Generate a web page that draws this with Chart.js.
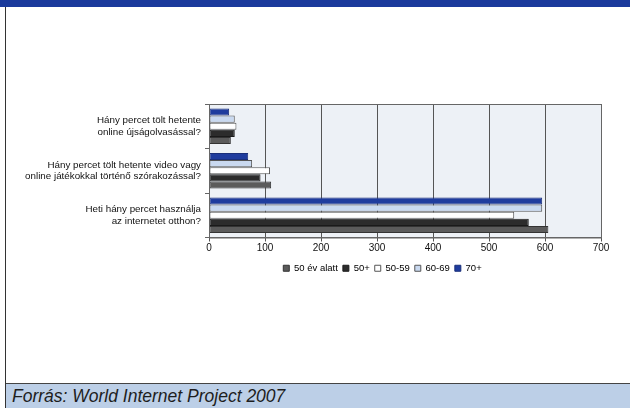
<!DOCTYPE html>
<html>
<head>
<meta charset="utf-8">
<script src="https://cdn.jsdelivr.net/npm/chart.js@4/dist/chart.umd.min.js"></script>
<style>
  html, body { margin: 0; padding: 0; background: #fff; }
  body { width: 630px; height: 408px; position: relative; overflow: hidden; font-family: "Liberation Sans", Arial, sans-serif; }
  #topband { position: absolute; left: 0; top: 0; width: 630px; height: 7px; background: #1b3a9c; }
  #leftline { position: absolute; left: 5px; top: 7px; width: 1px; height: 401px; background: #333; }
  #bottomband { position: absolute; left: 6px; top: 383px; width: 624px; height: 25px; background: #bccfe7; border-top: 1px solid #444; box-sizing: border-box; }
  #source { position: absolute; left: 12px; top: 384px; font-style: italic; font-size: 17.5px; color: #1e1e1e; line-height: 25px; }
  #wrap { position: absolute; left: 6px; top: 8px; width: 624px; height: 372px; }
</style>
</head>
<body>
<div id="topband"></div>
<div id="leftline"></div>
<div id="bottomband"></div>
<div id="source">Forrás: World Internet Project 2007</div>
<div id="wrap"><canvas id="c" width="624" height="372"></canvas></div>
<script>
const categories = [
  ["Hány percet tölt hetente", "online újságolvasással?"],
  ["Hány percet tölt hetente video vagy", "online játékokkal történő szórakozással?"],
  ["Heti hány percet használja", "az internetet otthon?"]
];
const seriesNames = ["70+", "60-69", "50-59", "50+", "50 év alatt"];
const values70plus = [36, 70, 595];
const values6069 = [46, 77, 595];
const values5059 = [49, 109, 545];
const values50plus = [46, 92, 571];
const valuesUnder50 = [39, 111, 606];
const xTicks = [0, 100, 200, 300, 400, 500, 600, 700];

const colors = ["#1f3c9e", "#c9d9f0", "#ffffff", "#2c2c2c", "#5b5b5b"];
const borders = ["#1a2f7a", "#555", "#555", "#1a1a1a", "#333"];
const allValues = [values70plus, values6069, values5059, values50plus, valuesUnder50];

const datasets = seriesNames.map((n, i) => ({
  label: n,
  data: allValues[i],
  backgroundColor: colors[i],
  borderColor: borders[i],
  borderWidth: 1,
  borderSkipped: false,
  barPercentage: 1.0,
  categoryPercentage: 0.8
}));

const plotBg = {
  id: 'plotBg',
  beforeDraw(chart) {
    const {ctx, chartArea: a} = chart;
    ctx.save();
    ctx.fillStyle = '#edf1f6';
    ctx.fillRect(a.left, a.top, a.right - a.left, a.bottom - a.top);
    ctx.restore();
  },
  afterDraw(chart) {
    const {ctx, chartArea: a} = chart;
    ctx.save();
    ctx.strokeStyle = '#666';
    ctx.lineWidth = 1;
    ctx.strokeRect(a.left + 0.5, a.top + 0.5, a.right - a.left, a.bottom - a.top);
    ctx.restore();
  }
};
const legendShift = {
  id: 'legendShift',
  afterLayout(chart) {
    const d = 79;
    chart.legend.left += d;
    chart.legend.right += d;
    chart.legend.top -= 3;
    chart.legend.bottom -= 3;
  }
};

Chart.defaults.font.family = '"Liberation Sans", Arial, sans-serif';
Chart.defaults.color = '#111';

new Chart(document.getElementById('c'), {
  type: 'bar',
  data: { labels: categories, datasets },
  options: {
    indexAxis: 'y',
    responsive: false,
    animation: false,
    layout: { padding: { left: 0, top: 96, right: 29, bottom: 94 } },
    plugins: {
      legend: {
        position: 'bottom',
        reverse: true,
        labels: {
          boxWidth: 6, boxHeight: 6, padding: 5,
          font: { size: 9.5 }, color: '#111',
          generateLabels(chart) {
            return chart.data.datasets.map((ds, i) => ({
              text: ds.label,
              fillStyle: ds.backgroundColor,
              strokeStyle: ds.borderColor,
              lineWidth: 1,
              datasetIndex: i,
              hidden: false
            }));
          }
        }
      },
      tooltip: { enabled: false }
    },
    scales: {
      x: {
        min: 0, max: 700,
        afterBuildTicks(scale) { scale.ticks = xTicks.map(v => ({ value: v })); },
        afterFit(scale) { scale.height = 24; },
        ticks: { font: { size: 10 }, color: '#111', padding: 1 },
        grid: { color: '#555', lineWidth: 1, tickLength: 4, drawTicks: true },
        border: { color: '#666' }
      },
      y: {
        afterFit(scale) { scale.width = 203; },
        ticks: { font: { size: 9.8 }, color: '#111', padding: 4 },
        grid: { drawOnChartArea: false, offset: true, tickLength: 4, color: '#666' },
        border: { color: '#666' }
      }
    }
  },
  plugins: [plotBg, legendShift]
});
</script>
</body>
</html>
